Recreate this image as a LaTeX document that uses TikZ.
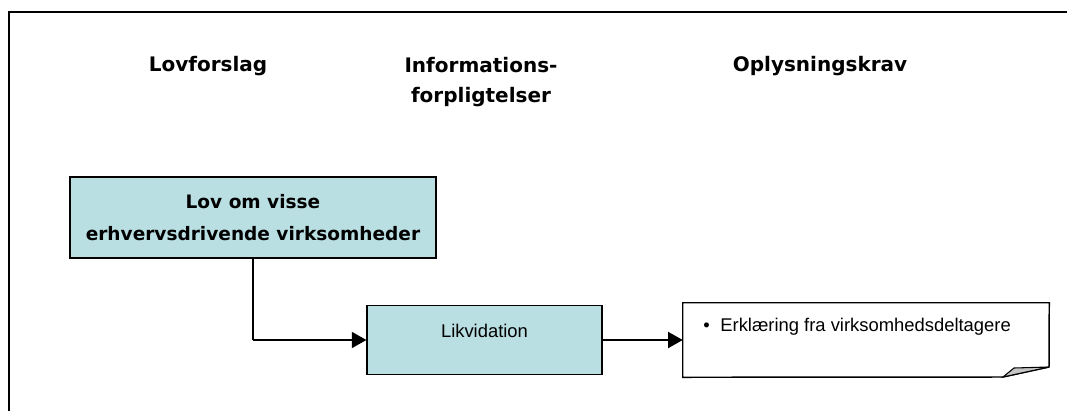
\documentclass[tikz,border=0pt]{standalone}
\usepackage{fontspec}
\setmainfont{Liberation Sans}
\newfontfamily\headfont{DejaVu Sans}
\usetikzlibrary{arrows.meta,positioning}

\definecolor{boxfill}{HTML}{B9DFE2}

\tikzset{
    heading/.style={font=\headfont\bfseries\fontsize{15}{22}\selectfont, align=center},
    lawbox/.style={draw, line width=1.1pt, fill=boxfill, minimum width=274.5pt, minimum height=60.5pt, inner sep=0pt,
        font=\headfont\bfseries\fontsize{13.9}{24}\selectfont, align=center},
    dutybox/.style={draw, line width=1.1pt, fill=boxfill, minimum width=176pt, minimum height=52pt, inner sep=0pt},
    plain/.style={font=\fontsize{13.8}{16}\selectfont, inner sep=0pt},
    flow/.style={line width=1.5pt, -{Triangle[length=11pt,width=12pt]}}
}

\begin{document}
\begin{tikzpicture}[x=0.75pt, y=-0.75pt]
    \useasboundingbox (0,0) rectangle (1067,411);

    % the frame
    \draw[line width=2pt] (9,411) -- (9,12) -- (1067,12);

    % the headings
    \node[heading] (hlov) at (208, 66) {Lovforslag};
    \node[heading, anchor=north] (hinfo) at (481, 53) {Informations-\\forpligtelser};
    \node[heading] (hkrav) at (820, 66) {Oplysningskrav};

    % the boxes
    \node[lawbox] (lov) at (253, 217.5) {Lov om visse\\erhvervsdrivende virksomheder};
    \node[dutybox] (likv) at (484.5, 340) {};
    \node[plain, anchor=base] (likvtext) at (484.5, 337) {Likvidation};

    % the note with a folded corner
    \node[minimum width=274.5pt, minimum height=55.5pt, inner sep=0pt] (krav) at (866, 340) {};
    \coordinate (fold) at (1003, 377);
    \draw[line width=1.1pt, fill=white] (krav.north west) -- (krav.north east) -- (1049, 367) -- (fold) -- (krav.south west) -- cycle;
    \draw[line width=0.8pt, fill=gray!45] (fold) -- (1014, 368) -- (1049, 367) -- cycle;
    \node[plain, anchor=base west] (kravtext) at (703, 331) {\textbullet\hspace{8pt}Erklæring fra virksomhedsdeltagere};

    % arrows
    \draw[line width=1pt] (lov.south) -- (253, 340) coordinate (bend);
    \draw[flow] (bend) -- (likv.west);
    \draw[flow] (likv.east) -- (krav.west);
\end{tikzpicture}
\end{document}
